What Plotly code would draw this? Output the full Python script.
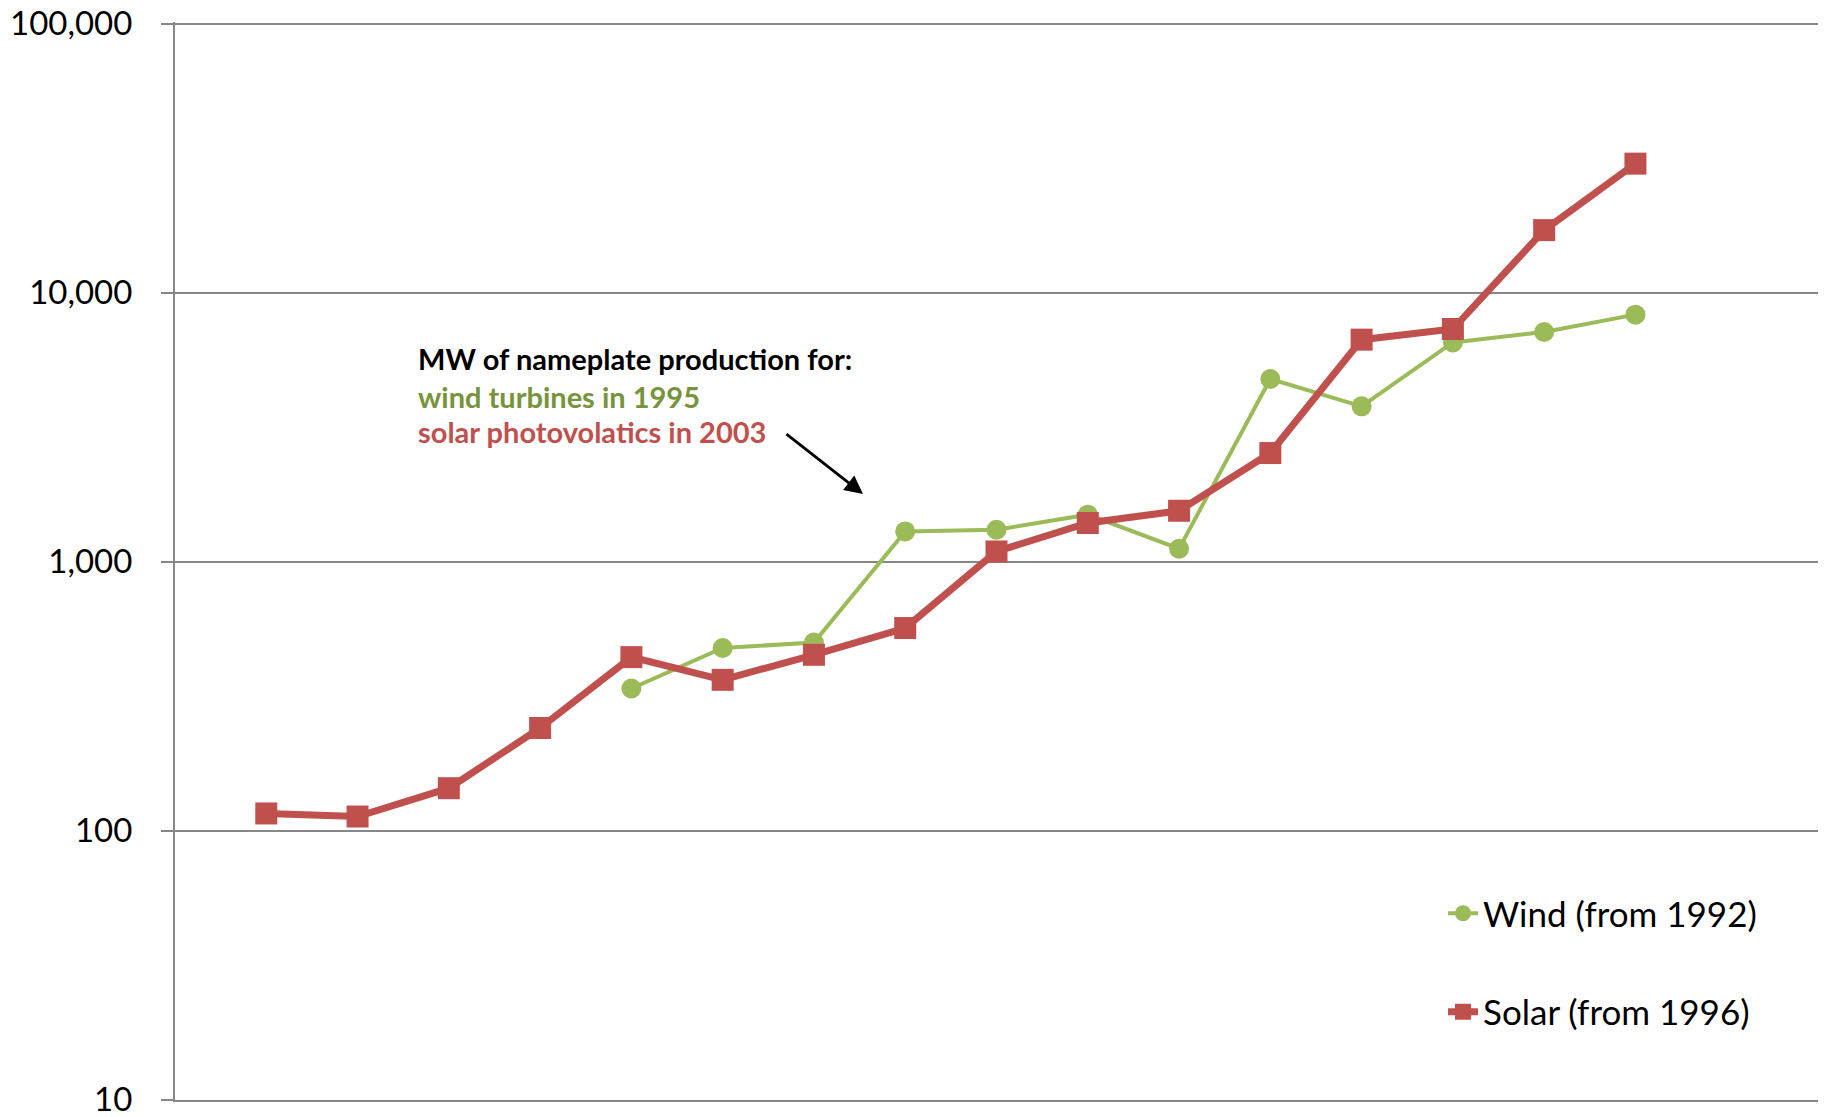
import plotly.graph_objects as go

# Category positions (no x labels shown)
solar_x = list(range(1, 17))
solar_mw = [116, 113, 144, 241, 442, 364, 451, 567, 1092, 1393, 1547, 2535, 6690, 7328, 17080, 30170]

wind_x = list(range(5, 17))
wind_mw = [338, 478, 501, 1296, 1315, 1496, 1118, 4777, 3780, 6535, 7142, 8287]

y_tickvals = [10, 100, 1000, 10000, 100000]
y_ticktext = ["10", "100", "1,000", "10,000", "100,000"]

wind_name = "Wind (from 1992)"
solar_name = "Solar (from 1996)"
note_lines = ["MW of nameplate production for:", "wind turbines in 1995", "solar photovolatics in 2003"]

GREEN = "#9BBB59"
RED = "#C0504D"
GRID = "#878787"
FONT = "Lato"

fig = go.Figure()
fig.add_trace(go.Scatter(
    x=wind_x, y=wind_mw, mode="lines+markers", name=wind_name, legendgroup="w",
    line=dict(color=GREEN, width=4),
    marker=dict(symbol="circle", size=20, color=GREEN),
))
fig.add_trace(go.Scatter(
    x=solar_x, y=solar_mw, mode="lines+markers", name=solar_name, legendgroup="s",
    line=dict(color=RED, width=7),
    marker=dict(symbol="square", size=22, color=RED),
))

L, R, T, B = 175, 7, 22, 17
W, H = 1825, 1117
pw, ph = W - L - R, H - T - B

def px_x(x):
    return (x - L) / pw

def px_y(y):
    return (H - B - y) / ph

annos = []
colors = ["#000000", "#77933C", RED]
centers = [359, 396, 432]
for txt, c, yc in zip(note_lines, colors, centers):
    annos.append(dict(
        text="<b>%s</b>" % txt, xref="paper", yref="paper",
        x=px_x(416), y=px_y(yc), xanchor="left", yanchor="middle",
        showarrow=False, font=dict(family=FONT, size=29, color=c),
    ))
annos.append(dict(
    text="", xref="paper", yref="paper", x=px_x(863), y=px_y(494),
    ax=785 - 863, ay=433 - 494, axref="pixel", ayref="pixel",
    showarrow=True, arrowhead=2, arrowsize=1.3, arrowwidth=2.8, arrowcolor="#000000",
))

fig.update_layout(
    width=W, height=H,
    margin=dict(l=L, r=R, t=T, b=B, autoexpand=False),
    paper_bgcolor="white", plot_bgcolor="white",
    font=dict(family=FONT, size=33, color="#000000"),
    showlegend=True,
    legend=dict(
        x=px_x(1443), y=px_y(884), xanchor="left", yanchor="top",
        font=dict(family=FONT, size=35, color="#000000"),
        tracegroupgap=50, bgcolor="rgba(0,0,0,0)", borderwidth=0,
    ),
    annotations=annos,
    xaxis=dict(
        range=[0, 18], showticklabels=False, showgrid=False, zeroline=False,
        showline=True, linecolor=GRID, linewidth=2, ticks="", automargin=False,
    ),
    yaxis=dict(
        type="log", range=[0.9995, 5.006], tickvals=y_tickvals, ticktext=y_ticktext,
        showgrid=True, gridcolor=GRID, gridwidth=2,
        showline=True, linecolor=GRID, linewidth=2,
        ticks="outside", ticklen=12, tickwidth=2, tickcolor=GRID,
        ticklabelstandoff=22, ticklabeloverflow="allow", zeroline=False,
        automargin=False,
        tickfont=dict(family=FONT, size=33, color="#000000"),
    ),
)

fig.write_html("out.html")
